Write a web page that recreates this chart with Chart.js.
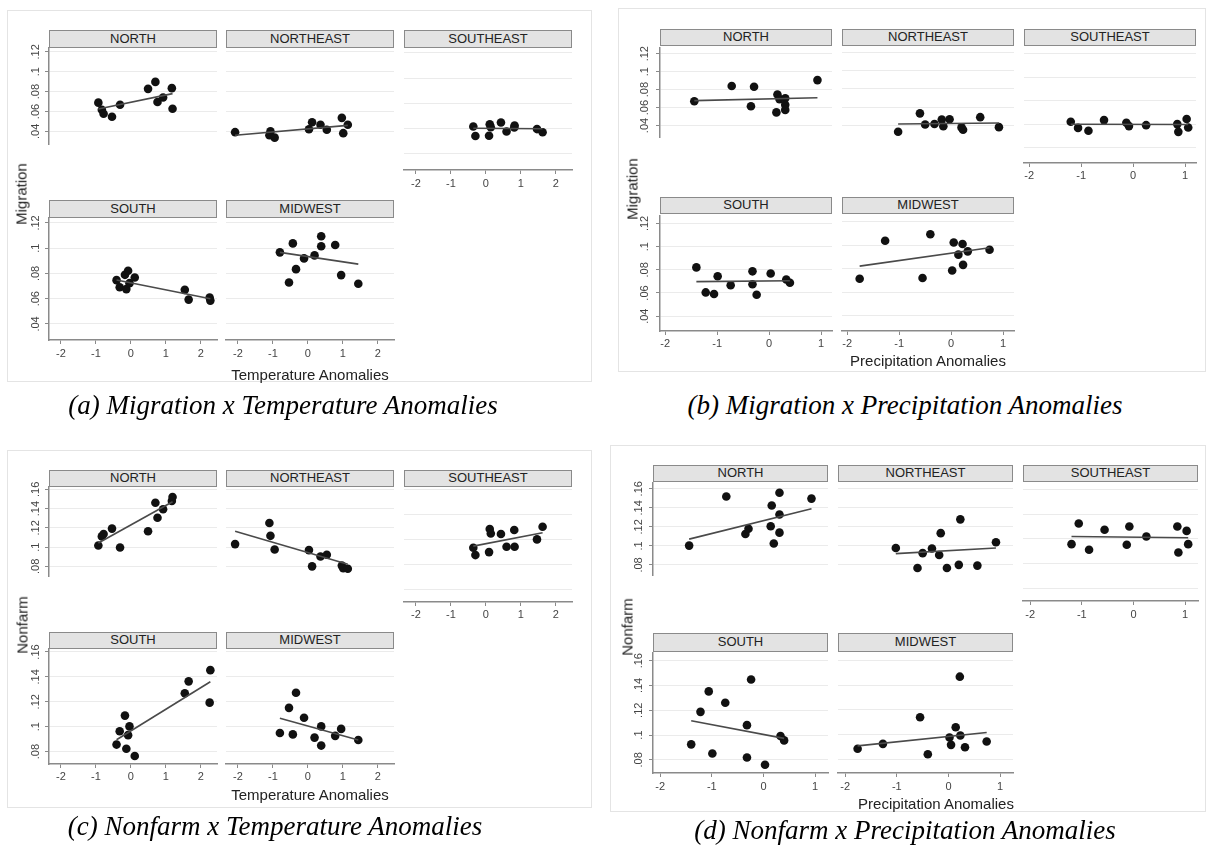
<!DOCTYPE html>
<html lang="en">
<head>
  <meta charset="UTF-8" />
  <title>Migration and Nonfarm x Climate Anomalies</title>
  <script src="https://cdn.jsdelivr.net/npm/chart.js"></script>
  <style>
    body { margin: 0; background: #fff; }
    #fig { position: relative; width: 1212px; height: 852px; background: #fff; overflow: hidden;
           font-family: 'Liberation Sans', Arial, Helvetica, sans-serif; }
    .frame { position: absolute; box-sizing: border-box; border: 1px solid #e4e4e4; background: #fff; }
    .strip { position: absolute; box-sizing: border-box; background: #e3e3e3; border: 1.5px solid #8a8a8a;
             font-size: 13px; color: #222; text-align: center; }
    .facet { position: absolute; }
    .ytitle { position: absolute; transform: translate(-50%, -50%) rotate(-90deg); font-size: 15px; color: #222; white-space: nowrap; }
    .xtitle { position: absolute; transform: translate(-50%, -50%); font-size: 15px; color: #222; white-space: nowrap; }
    .caption { position: absolute; transform: translate(-50%, -50%); font-family: 'Liberation Serif', 'Times New Roman', serif;
               font-style: italic; font-size: 27px; color: #000; white-space: nowrap; }
  </style>
</head>
<body>
  <div id="fig"></div>

  <script>
    // ---- data ----
    const regions = ['NORTH', 'NORTHEAST', 'SOUTHEAST', 'SOUTH', 'MIDWEST'];

    // temperature anomalies, one list per region (panels a and c)
    const tempX = [
      [-0.93, -0.83, -0.78, -0.54, -0.31, 0.49, 0.70, 0.76, 0.92, 1.17, 1.19],
      [-2.08, -1.10, -1.07, -0.95, 0.03, 0.12, 0.36, 0.54, 0.97, 1.01, 1.14],
      [-0.36, -0.30, 0.09, 0.11, 0.14, 0.43, 0.59, 0.81, 0.82, 1.46, 1.62],
      [-0.41, -0.32, -0.17, -0.13, -0.08, -0.04, 0.11, 1.54, 1.65, 2.25, 2.27],
      [-0.80, -0.54, -0.43, -0.34, -0.11, 0.19, 0.38, 0.38, 0.78, 0.95, 1.44]
    ];
    // precipitation anomalies (panels b and d)
    const precipX = [
      [-1.44, -0.72, -0.35, -0.29, 0.14, 0.16, 0.20, 0.31, 0.31, 0.31, 0.93],
      [-1.02, -0.60, -0.50, -0.32, -0.18, -0.15, -0.03, 0.20, 0.23, 0.56, 0.92],
      [-1.20, -1.06, -0.86, -0.56, -0.13, -0.08, 0.25, 0.85, 0.87, 1.03, 1.06],
      [-1.40, -1.22, -1.06, -0.99, -0.74, -0.32, -0.32, -0.24, 0.03, 0.33, 0.40],
      [-1.76, -1.27, -0.55, -0.40, 0.02, 0.05, 0.14, 0.22, 0.23, 0.32, 0.74]
    ];

    const migrationByTemp = [
      [0.0689, 0.0618, 0.0578, 0.0547, 0.0668, 0.0828, 0.0898, 0.0696, 0.0741, 0.0835, 0.0628],
      [0.0392, 0.0361, 0.0400, 0.0337, 0.0421, 0.0492, 0.0466, 0.0416, 0.0536, 0.0382, 0.0466],
      [0.0618, 0.0542, 0.0544, 0.0635, 0.0612, 0.0649, 0.0578, 0.0610, 0.0625, 0.0597, 0.0572],
      [0.0747, 0.0691, 0.0789, 0.0676, 0.0821, 0.0723, 0.0768, 0.0670, 0.0593, 0.0609, 0.0585],
      [0.0967, 0.0728, 0.1038, 0.0834, 0.0919, 0.0943, 0.1094, 0.1015, 0.1025, 0.0787, 0.0718]
    ];
    const migrationByPrecip = [
      [0.0671, 0.0840, 0.0614, 0.0831, 0.0546, 0.0746, 0.0694, 0.0703, 0.0631, 0.0574, 0.0906],
      [0.0329, 0.0531, 0.0409, 0.0414, 0.0463, 0.0389, 0.0466, 0.0377, 0.0351, 0.0489, 0.0380],
      [0.0623, 0.0571, 0.0546, 0.0637, 0.0614, 0.0586, 0.0594, 0.0603, 0.0537, 0.0646, 0.0574],
      [0.0821, 0.0605, 0.0591, 0.0745, 0.0667, 0.0787, 0.0675, 0.0585, 0.0768, 0.0717, 0.0689],
      [0.0717, 0.1040, 0.0723, 0.1096, 0.0787, 0.1026, 0.0922, 0.1012, 0.0835, 0.0950, 0.0964]
    ];
    const nonfarmByTemp = [
      [0.1017, 0.1111, 0.1136, 0.1192, 0.0996, 0.1165, 0.1461, 0.1305, 0.1393, 0.1479, 0.1520],
      [0.1031, 0.1251, 0.1117, 0.0975, 0.0969, 0.0800, 0.0902, 0.0921, 0.0808, 0.0781, 0.0776],
      [0.1136, 0.1077, 0.1101, 0.1286, 0.1251, 0.1246, 0.1144, 0.1278, 0.1144, 0.1203, 0.1305],
      [0.0856, 0.0963, 0.1089, 0.0822, 0.0932, 0.1002, 0.0764, 0.1269, 0.1364, 0.1193, 0.1454],
      [0.0949, 0.1151, 0.0938, 0.1272, 0.1072, 0.0912, 0.1002, 0.0848, 0.0926, 0.0982, 0.0893]
    ];
    const nonfarmByPrecip = [
      [0.1003, 0.1519, 0.1125, 0.1180, 0.1207, 0.1424, 0.1025, 0.1559, 0.1329, 0.1139, 0.1497],
      [0.0976, 0.0767, 0.0922, 0.0971, 0.0903, 0.1131, 0.0767, 0.0800, 0.1275, 0.0792, 0.1036],
      [0.1158, 0.1326, 0.1112, 0.1275, 0.1153, 0.1302, 0.1220, 0.1302, 0.1090, 0.1266, 0.1158],
      [0.0925, 0.1187, 0.1352, 0.0851, 0.1261, 0.1080, 0.0819, 0.1448, 0.0760, 0.0992, 0.0957],
      [0.0888, 0.0928, 0.1141, 0.0845, 0.0979, 0.0920, 0.1061, 0.1467, 0.0995, 0.0901, 0.0947]
    ];

    // fitted line: value at the lowest and at the highest anomaly of each region
    const fitMigrationTemp = [[0.0626, 0.0780], [0.0361, 0.0460], [0.0603, 0.0600], [0.0748, 0.0600], [0.0967, 0.0874]];
    const fitMigrationPrecip = [[0.0677, 0.0709], [0.0414, 0.0426], [0.0602, 0.0600], [0.0698, 0.0706], [0.0824, 0.0981]];
    const fitNonfarmTemp = [[0.1042, 0.1471], [0.1165, 0.0821], [0.1149, 0.1256], [0.0895, 0.1361], [0.1067, 0.0893]];
    const fitNonfarmPrecip = [[0.1071, 0.1391], [0.0917, 0.0976], [0.1220, 0.1210], [0.1115, 0.0973], [0.0912, 0.1019]];

    const tempTicks = [-2, -1, 0, 1, 2];
    const precipTicks = [-2, -1, 0, 1];
    const migrationTicks = [0.04, 0.06, 0.08, 0.1, 0.12];
    const migrationTickLabels = ['.04', '.06', '.08', '.1', '.12'];
    const nonfarmTicks = [0.08, 0.1, 0.12, 0.14, 0.16];
    const nonfarmTickLabels = ['.08', '.1', '.12', '.14', '.16'];

    // ---- layout ----
    const M = 8, YW = 32, XH = 26;
    const AXIS = '#8a8a8a';

    const panels = [
      { xs: tempX, ys: migrationByTemp, fits: fitMigrationTemp, xTicks: tempTicks, yTicks: migrationTicks, yLabels: migrationTickLabels,
        xMin: -2.34, xMax: 2.46, yMin: 0.0273, yMax: 0.1239,
        xTitle: 'Temperature Anomalies', yTitle: 'Migration', caption: '(a) Migration x Temperature Anomalies',
        frame: [7, 10, 592, 382], cols: [49, 226, 404], colW: 168,
        rows: [[30, 48, 122], [200, 218, 122]], yPad: 1, xPad: 3,
        yTitlePos: [21, 194], xTitlePos: [310, 374], capPos: [283, 405] },
      { xs: precipX, ys: migrationByPrecip, fits: fitMigrationPrecip, xTicks: precipTicks, yTicks: migrationTicks, yLabels: migrationTickLabels,
        xMin: -2.10, xMax: 1.21, yMin: 0.0272, yMax: 0.1268,
        xTitle: 'Precipitation Anomalies', yTitle: 'Migration', caption: '(b) Migration x Precipitation Anomalies',
        frame: [618, 8, 1206, 372], cols: [660, 842, 1024], colW: 172,
        rows: [[29, 46, 117], [197, 214, 117]], yPad: 3, xPad: 2,
        yTitlePos: [632, 189], xTitlePos: [928, 360], capPos: [905, 405] },
      { xs: tempX, ys: nonfarmByTemp, fits: fitNonfarmTemp, xTicks: tempTicks, yTicks: nonfarmTicks, yLabels: nonfarmTickLabels,
        xMin: -2.34, xMax: 2.46, yMin: 0.0700, yMax: 0.1624,
        xTitle: 'Temperature Anomalies', yTitle: 'Nonfarm', caption: '(c) Nonfarm x Temperature Anomalies',
        frame: [7, 450, 592, 808], cols: [49, 226, 404], colW: 168,
        rows: [[470, 487, 115], [632, 649, 115]], yPad: 1, xPad: 2,
        yTitlePos: [22, 625], xTitlePos: [310, 794], capPos: [275, 826] },
      { xs: precipX, ys: nonfarmByPrecip, fits: fitNonfarmPrecip, xTicks: precipTicks, yTicks: nonfarmTicks, yLabels: nonfarmTickLabels,
        xMin: -2.14, xMax: 1.25, yMin: 0.0694, yMax: 0.1665,
        xTitle: 'Precipitation Anomalies', yTitle: 'Nonfarm', caption: '(d) Nonfarm x Precipitation Anomalies',
        frame: [610, 445, 1206, 812], cols: [653, 838, 1023], colW: 175,
        rows: [[465, 482, 119], [633, 652, 121]], yPad: 2, xPad: 3,
        yTitlePos: [627, 627], xTitlePos: [936, 803], capPos: [905, 830] }
    ];

    Chart.defaults.font.family = "'Liberation Sans', Arial, Helvetica, sans-serif";
    const fig = document.getElementById('fig');

    function place(cls, text, css) {
      const el = document.createElement('div');
      el.className = cls;
      if (text) el.textContent = text;
      Object.assign(el.style, css);
      fig.appendChild(el);
      return el;
    }

    function drawFacet(p, k, left, top, h, showY, showX) {
      const xs = p.xs[k], ys = p.ys[k], fit = p.fits[k];
      const yw = showY ? YW : 0, xh = showX ? XH : 0;
      const canvas = document.createElement('canvas');
      canvas.className = 'facet';
      canvas.width = p.colW + yw + 2 * M;
      canvas.height = h + xh + 2 * M;
      canvas.style.left = (left - yw - M) + 'px';
      canvas.style.top = (top - M) + 'px';
      fig.appendChild(canvas);

      const lo = Math.min(...xs), hi = Math.max(...xs);
      new Chart(canvas, {
        type: 'scatter',
        data: {
          datasets: [
            { data: [{ x: lo, y: fit[0] }, { x: hi, y: fit[1] }], showLine: true,
              borderColor: '#4a4a4a', borderWidth: 1.6, pointRadius: 0, clip: false },
            { data: xs.map((x, i) => ({ x, y: ys[i] })),
              backgroundColor: '#111', borderColor: '#111', borderWidth: 0, pointRadius: 4.3, clip: false }
          ]
        },
        options: {
          responsive: false,
          animation: false,
          events: [],
          layout: { padding: M },
          plugins: { legend: { display: false }, tooltip: { enabled: false } },
          scales: {
            x: {
              type: 'linear', min: p.xMin, max: p.xMax, display: showX,
              border: { color: AXIS, width: 1.5 },
              grid: { drawOnChartArea: false, tickLength: 4, tickColor: AXIS },
              ticks: { padding: p.xPad, maxRotation: 0, color: '#444', font: { size: 11 }, callback: v => String(v) },
              afterBuildTicks: s => { s.ticks = p.xTicks.map(v => ({ value: v })); },
              afterFit: s => { s.height = XH; }
            },
            y: {
              type: 'linear', min: p.yMin, max: p.yMax,
              border: { display: showY, color: AXIS, width: 1.5 },
              grid: { color: '#ebebeb', lineWidth: 1, drawTicks: showY, tickLength: 4, tickColor: AXIS },
              ticks: { display: showY, minRotation: 90, maxRotation: 90, crossAlign: 'center', padding: p.yPad,
                       color: '#444', font: { size: 11 }, callback: (v, i) => p.yLabels[i] },
              afterBuildTicks: s => { s.ticks = p.yTicks.map(v => ({ value: v })); },
              afterFit: s => { s.width = showY ? YW : 0; }
            }
          }
        }
      });
    }

    panels.forEach(p => {
      const [fl, ft, fr, fb] = p.frame;
      place('frame', '', { left: fl + 'px', top: ft + 'px', width: (fr - fl) + 'px', height: (fb - ft) + 'px' });

      regions.forEach((name, k) => {
        const row = k < 3 ? 0 : 1;
        const col = k < 3 ? k : k - 3;
        const [stripTop, plotTop, plotH] = p.rows[row];
        const left = p.cols[col];
        const sh = plotTop - stripTop;
        place('strip', name, { left: left + 'px', top: stripTop + 'px', width: p.colW + 'px',
                               height: sh + 'px', lineHeight: (sh - 3) + 'px' });
        drawFacet(p, k, left, plotTop, plotH, col === 0, row === 1 || col === 2);
      });

      place('ytitle', p.yTitle, { left: p.yTitlePos[0] + 'px', top: p.yTitlePos[1] + 'px' });
      place('xtitle', p.xTitle, { left: p.xTitlePos[0] + 'px', top: p.xTitlePos[1] + 'px' });
      place('caption', p.caption, { left: p.capPos[0] + 'px', top: p.capPos[1] + 'px' });
    });
  </script>
</body>
</html>
